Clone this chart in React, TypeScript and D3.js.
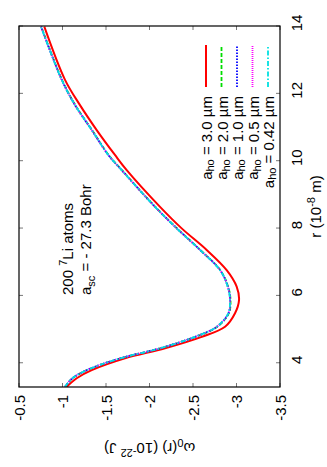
import React from "react";
import * as d3 from "d3";

// r values (10^-8 m)
const rValues = [3.29, 3.54, 3.78, 4.13, 4.43, 4.77, 5.07, 5.47, 5.86, 6.26, 6.75, 7.35, 7.99, 8.63, 9.72, 10.17, 10.91, 11.65, 12.4, 13.98];
// omega_0(r) (10^-22 J)
const omega30 = [-1.05, -1.163, -1.336, -1.718, -2.178, -2.6, -2.868, -2.983, -3.029, -3.002, -2.887, -2.657, -2.37, -2.121, -1.738, -1.603, -1.393, -1.201, -1.029, -0.791];
const omega20 = [-1.032, -1.116, -1.281, -1.664, -2.125, -2.528, -2.778, -2.912, -2.931, -2.904, -2.814, -2.583, -2.316, -2.066, -1.683, -1.529, -1.339, -1.147, -0.994, -0.756];
const omega10 = [-1.03, -1.114, -1.279, -1.662, -2.123, -2.525, -2.775, -2.908, -2.927, -2.901, -2.812, -2.581, -2.314, -2.064, -1.681, -1.527, -1.337, -1.145, -0.992, -0.754];
const omega05 = [-1.029, -1.113, -1.278, -1.661, -2.122, -2.524, -2.773, -2.907, -2.926, -2.9, -2.811, -2.58, -2.313, -2.063, -1.68, -1.526, -1.336, -1.144, -0.991, -0.753];
const omega042 = [-1.029, -1.113, -1.278, -1.661, -2.121, -2.523, -2.772, -2.906, -2.925, -2.899, -2.81, -2.58, -2.313, -2.063, -1.68, -1.526, -1.336, -1.144, -0.991, -0.753];

const seriesLabels = ["3.0", "2.0", "1.0", "0.5", "0.42"];
const seriesValues = [omega30, omega20, omega10, omega05, omega042];
const seriesColors = ["#ff0000", "#00dd00", "#0000ff", "#ff00ff", "#00e0e0"];
const seriesDash = ["none", "4,2", "1.5,1.5", "1,1", "5,2,1.5,2"];
const seriesWidth = [2, 1.8, 1.8, 1.8, 1.8];

const rTicks = [4, 6, 8, 10, 12, 14];
const omegaTicks = [-3.5, -3, -2.5, -2, -1.5, -1, -0.5];

const W = 467; // original (unrotated) width
const FONT = "Liberation Sans, Arial, Helvetica, sans-serif";

export default function App() {
  const left = 80, right = 441, top = 19, bottom = 280;
  const x = d3.scaleLinear().domain([3.28, 14]).range([left, right]);
  const y = d3.scaleLinear().domain([-3.5, -0.5]).range([bottom, top]);
  const line = d3
    .line<[number, number]>()
    .x((d) => x(d[0]))
    .y((d) => y(d[1]))
    .curve(d3.curveCatmullRom.alpha(0.5));

  const legendRows = [206, 221.5, 237, 252.5, 268];

  return (
    <svg
      width={327}
      height={467}
      style={{ position: "absolute", left: 0, top: 0, background: "#fff" }}
      fontFamily={FONT}
    >
      <rect x={0} y={0} width={327} height={467} fill="#fff" />
      <g transform={`translate(0,${W}) rotate(-90)`}>
        <defs>
          <clipPath id="plotclip">
            <rect x={left} y={top} width={right - left} height={bottom - top} />
          </clipPath>
        </defs>
        {/* ticks */}
        {rTicks.map((t) => (
          <g key={"rt" + t}>
            <line x1={x(t)} x2={x(t)} y1={bottom} y2={bottom - 4} stroke="#777" strokeWidth={1} />
            <line x1={x(t)} x2={x(t)} y1={top} y2={top + 4} stroke="#777" strokeWidth={1} />
            <text x={x(t) + 3} y={302} textAnchor="middle" fontSize={15} fill="#000">
              {t}
            </text>
          </g>
        ))}
        {omegaTicks.map((t) => (
          <g key={"ot" + t}>
            <line x1={left} x2={left + 4} y1={y(t)} y2={y(t)} stroke="#777" strokeWidth={1} />
            <line x1={right} x2={right - 4} y1={y(t)} y2={y(t)} stroke="#777" strokeWidth={1} />
            <text x={72} y={y(t)} textAnchor="end" dominantBaseline="central" fontSize={15} fill="#000">
              {t}
            </text>
          </g>
        ))}
        {/* curves */}
        <g clipPath="url(#plotclip)">
          {seriesValues.map((vals, i) => (
            <path
              key={"s" + i}
              d={line(rValues.map((r, k) => [r, vals[k]] as [number, number])) || ""}
              fill="none"
              stroke={seriesColors[i]}
              strokeWidth={seriesWidth[i]}
              strokeDasharray={seriesDash[i]}
            />
          ))}
        </g>
        {/* frame */}
        <rect x={left} y={top} width={right - left} height={bottom - top} fill="none" stroke="#000" strokeWidth={1.2} />
        {/* legend */}
        {seriesLabels.map((lab, i) => (
          <g key={"lg" + i}>
            <text x={371} y={legendRows[i]} textAnchor="end" dominantBaseline="central" fontSize={15} fill="#000">
              a<tspan fontSize={11} dy={4}>ho</tspan>
              <tspan dy={-4}>{" = " + lab + " µm"}</tspan>
            </text>
            <line
              x1={380}
              x2={422}
              y1={legendRows[i]}
              y2={legendRows[i]}
              stroke={seriesColors[i]}
              strokeWidth={seriesWidth[i]}
              strokeDasharray={seriesDash[i]}
            />
          </g>
        ))}
        {/* annotation */}
        <text x={172} y={73} fontSize={15} fill="#000">
          200 <tspan fontSize={11} dy={-6}>7</tspan>
          <tspan dy={6}>Li atoms</tspan>
        </text>
        <text x={172} y={91} fontSize={15} fill="#000">
          a<tspan fontSize={11} dy={4}>sc</tspan>
          <tspan dy={-4}> = - 27.3 Bohr</tspan>
        </text>
        {/* axis titles */}
        <text x={(left + right) / 2} y={321} textAnchor="middle" fontSize={15} fill="#000">
          r (10<tspan fontSize={11} dy={-6}>-8</tspan>
          <tspan dy={6}> m)</tspan>
        </text>
        <text
          transform={`translate(24,${(top + bottom) / 2}) rotate(-90)`}
          textAnchor="middle"
          fontSize={15}
          fill="#000"
        >
          ω<tspan fontSize={11} dy={4}>0</tspan>
          <tspan dy={-4}>(r) (10</tspan>
          <tspan fontSize={11} dy={-6}>-22</tspan>
          <tspan dy={6}> J)</tspan>
        </text>
      </g>
    </svg>
  );
}
